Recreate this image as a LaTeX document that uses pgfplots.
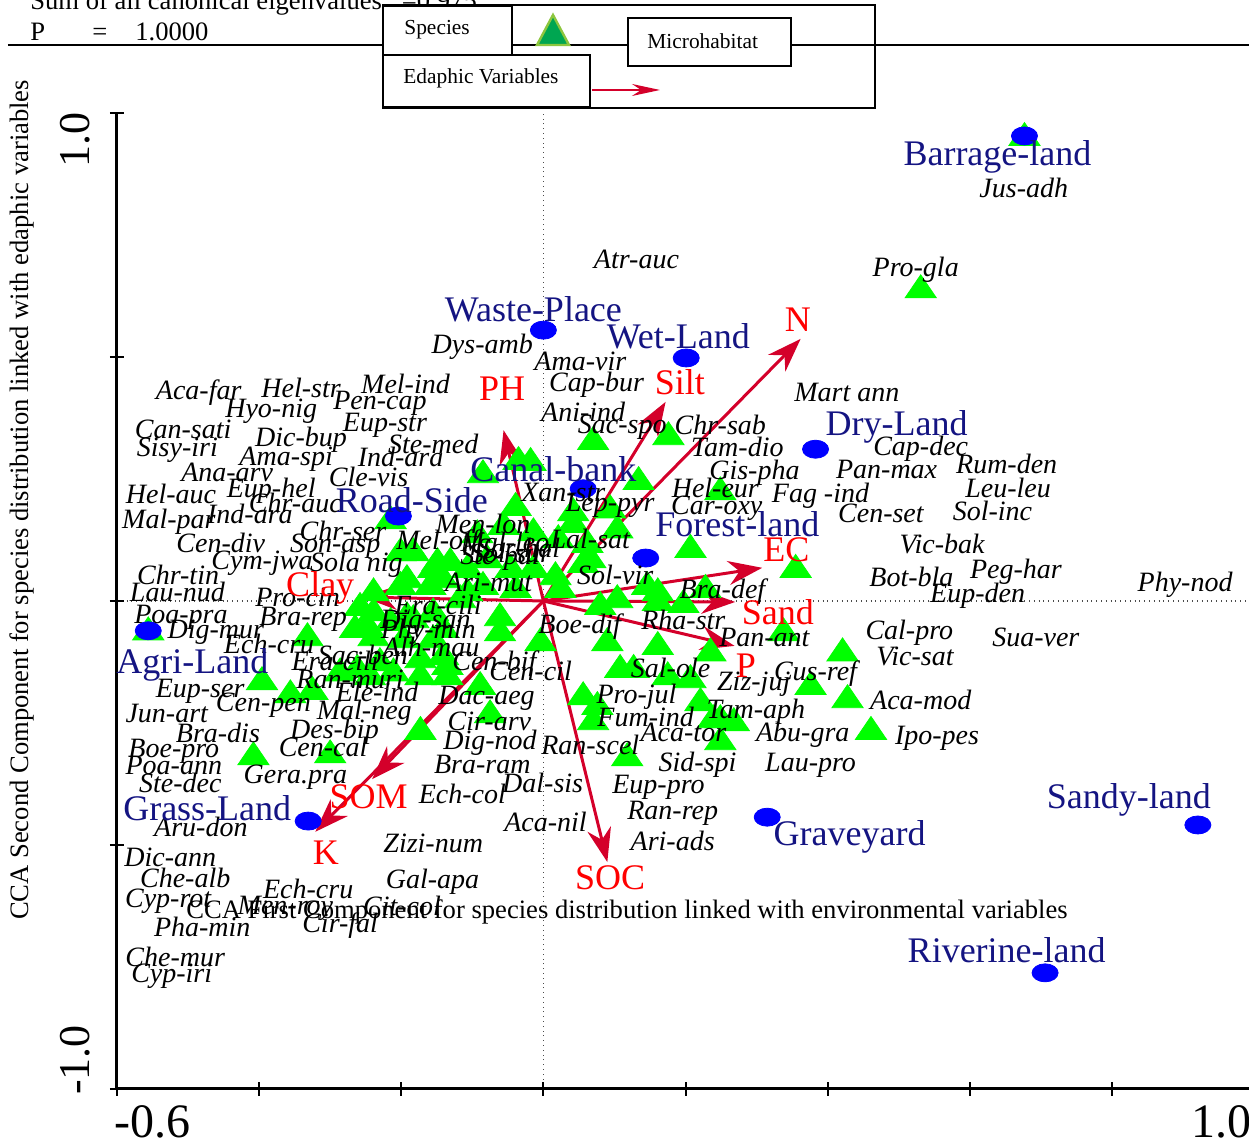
\documentclass[border=0pt]{standalone}
\usepackage{fontspec}
\setmainfont{Liberation Serif}
\usepackage{pgfplots}
\usepackage{pgfplotstable}
\pgfplotsset{compat=1.18}
\usetikzlibrary{arrows.meta}

\definecolor{ptgreen}{RGB}{0,255,0}
\definecolor{legdark}{RGB}{0,166,81}
\definecolor{leglight}{RGB}{141,198,63}
\definecolor{siteblue}{RGB}{0,0,255}
\definecolor{sitenavy}{RGB}{20,20,130}
\definecolor{arrowred}{RGB}{212,0,42}
\definecolor{lblred}{RGB}{255,0,0}
\newcommand\fs[1]{\fontsize{#1}{#1}\selectfont}

% species scores (triangles)
\pgfplotstableread{
x y
0.677 0.949
0.531 0.637
0.070 0.326
0.176 0.336
-0.085 0.258
-0.035 0.285
-0.018 0.283
0.134 0.244
0.249 0.223
-0.215 0.164
-0.201 0.098
-0.039 0.191
0.042 0.180
0.042 0.156
0.094 0.186
-0.093 0.135
-0.056 0.152
-0.014 0.139
0.021 0.125
0.062 0.115
0.104 0.145
-0.183 0.098
-0.149 0.078
-0.131 0.078
-0.107 0.064
-0.079 0.084
-0.046 0.064
-0.014 0.064
0.017 0.049
0.056 0.074
0.207 0.105
0.355 0.064
0.146 0.029
0.161 0.016
0.228 0.023
0.080 -0.012
0.104 0.002
0.161 -0.004
0.197 -0.008
-0.192 0.043
-0.159 0.029
-0.141 0.043
-0.107 0.016
-0.085 0.029
-0.061 -0.035
-0.183 -0.039
-0.141 -0.059
-0.061 -0.066
-0.004 -0.086
0.090 -0.086
0.161 -0.094
0.235 -0.107
0.338 -0.066
-0.197 -0.080
-0.173 -0.121
-0.135 -0.135
-0.173 -0.156
-0.089 -0.176
0.108 -0.141
0.127 -0.141
0.175 -0.156
0.207 -0.162
0.221 -0.209
0.056 -0.197
0.076 -0.217
0.376 -0.176
0.249 -0.244
0.268 -0.250
-0.075 -0.234
-0.173 -0.268
0.070 -0.248
0.239 -0.244
0.249 -0.289
0.118 -0.322
0.461 -0.268
0.428 -0.203
0.421 -0.107
-0.258 -0.014
-0.239 -0.025
-0.248 -0.053
-0.215 -0.045
-0.192 -0.033
-0.155 -0.025
-0.239 -0.076
-0.155 -0.080
-0.141 -0.115
-0.135 -0.156
-0.211 -0.148
-0.286 -0.148
-0.262 -0.141
-0.244 -0.156
-0.230 -0.127
-0.332 -0.076
-0.396 -0.166
-0.356 -0.193
-0.325 -0.186
-0.408 -0.320
-0.300 -0.316
-0.556 -0.064
-0.155 0.064
-0.201 0.029
-0.239 0.016
-0.117 0.002
-0.039 0.023
0.024 0.023
0.066 0.084
-0.265 -0.059
}\speciespts

% microhabitat scores
\pgfplotstableread{
x y
0.677 0.953
0.000 0.555
0.201 0.498
0.383 0.311
0.056 0.230
-0.204 0.174
0.144 0.088
-0.556 -0.061
-0.331 -0.451
0.315 -0.443
0.921 -0.459
0.706 -0.762
}\sites

\pgfplotstableread[col sep=comma]{
x,y,label
0.639,0.910,Barrage-land
-0.014,0.598,Waste-Place
0.190,0.543,Wet-Land
0.497,0.357,Dry-Land
0.014,0.270,Canal-bank
-0.185,0.207,Road-Side
0.273,0.158,Forest-land
-0.494,-0.131,Agri-Land
-0.473,-0.424,Grass-Land
0.431,-0.484,Graveyard
0.824,-0.408,Sandy-land
0.652,-0.715,Riverine-land
}\sitelabels

% edaphic variable biplot arrows
\pgfplotstableread{
x y u v
0 0 -0.056 0.350
0 0 0.172 0.408
0 0 0.362 0.537
0 0 0.308 0.068
0 0 0.270 -0.002
0 0 0.269 -0.092
0 0 0.090 -0.535
0 0 -0.321 -0.473
0 0 -0.241 -0.365
0 0 -0.254 0.008
}\edaphic

\pgfplotstableread[col sep=comma]{
x,y,label
-0.058,0.436,PH
0.192,0.449,Silt
0.358,0.576,N
0.342,0.105,EC
0.330,-0.023,Sand
0.285,-0.133,P
0.094,-0.568,SOC
-0.306,-0.516,K
-0.246,-0.402,SOM
-0.314,0.027,Clay
}\edalabels

\pgfplotstableread[col sep=comma]{
x,y,label
0.676,0.846,Jus-adh
0.131,0.699,Atr-auc
0.524,0.678,Pro-gla
-0.086,0.520,Dys-amb
0.052,0.490,Ama-vir
0.075,0.443,Cap-bur
0.427,0.428,Mart ann
0.056,0.387,Ani-ind
0.111,0.357,Sac-spo
0.249,0.361,Chr-sab
0.273,0.316,Tam-dio
0.531,0.311,Cap-dec
0.483,0.270,Pan-max
0.652,0.281,Rum-den
0.297,0.262,Gis-pha
0.654,0.232,Leu-leu
0.242,0.232,Hel-eur
0.028,0.223,Xan-str
0.390,0.215,Fag -ind
0.094,0.195,Lep-pyr
0.244,0.191,Car-oxy
0.475,0.180,Cen-set
0.632,0.184,Sol-inc
0.066,0.127,Lal-sat
-0.054,0.121,Mal-leo
-0.085,0.158,Men-lon
-0.149,0.119,Mel-off
-0.035,0.109,Sor-hal
-0.061,0.088,Ste-pal
-0.046,0.098,Sol-sur
0.101,0.053,Sol-vir
0.561,0.117,Vic-bak
-0.077,0.039,Ari-mut
0.518,0.049,Bot-bla
0.665,0.059,Peg-har
0.903,0.033,Phy-nod
0.252,0.020,Bra-def
0.611,0.010,Eup-den
-0.346,0.008,Pro-cin
-0.148,-0.008,Era-cili
-0.510,-0.033,Poa-pra
-0.338,-0.037,Bra-rep
-0.166,-0.043,Dig-san
0.197,-0.039,Rha-str
0.051,-0.053,Boe-dif
-0.461,-0.064,Dig-mur
-0.162,-0.064,Phy-min
0.515,-0.066,Cal-pro
0.693,-0.074,Sua-ver
0.311,-0.074,Pan-ant
-0.386,-0.088,Ech-cru
-0.158,-0.094,Alh-mau
0.523,-0.113,Vic-sat
-0.293,-0.123,Era-cili
-0.254,-0.111,Sac-ben
-0.069,-0.129,Cen-bif
-0.018,-0.143,Cen-cil
0.179,-0.137,Sal-ole
0.383,-0.148,Cus-ref
0.296,-0.170,Ziz-juj
-0.272,-0.160,Ran-muri
-0.483,-0.186,Eup-ser
-0.234,-0.186,Ele-ind
-0.394,-0.213,Cen-pen
-0.080,-0.199,Dac-aeg
0.131,-0.197,Pro-jul
0.531,-0.203,Aca-mod
-0.530,-0.230,Jun-art
-0.252,-0.230,Mal-neg
0.299,-0.227,Tam-aph
0.144,-0.238,Fum-ind
-0.076,-0.246,Cir-arv
-0.458,-0.270,Bra-dis
-0.294,-0.268,Des-bip
0.197,-0.270,Aca-tor
0.365,-0.275,Abu-gra
0.554,-0.281,Ipo-pes
-0.075,-0.291,Dig-nod
0.066,-0.295,Ran-scel
-0.520,-0.309,Boe-pro
-0.310,-0.299,Cen-cal
-0.520,-0.338,Poa-ann
-0.086,-0.336,Bra-ram
0.217,-0.336,Sid-spi
0.376,-0.336,Lau-pro
-0.349,-0.361,Gera.pra
-0.511,-0.373,Ste-dec
-0.001,-0.373,Dal-sis
0.162,-0.381,Eup-pro
-0.114,-0.395,Ech-col
0.182,-0.436,Ran-rep
0.003,-0.453,Aca-nil
-0.482,-0.463,Aru-don
0.182,-0.492,Ari-ads
-0.155,-0.496,Zizi-num
-0.525,-0.525,Dic-ann
-0.504,-0.568,Che-alb
-0.156,-0.576,Gal-apa
-0.331,-0.590,Ech-cru
-0.528,-0.615,Cyp-rot
-0.363,-0.629,Men-roy
-0.199,-0.625,Cit-col
-0.480,-0.668,Pha-min
-0.286,-0.666,Cir-fal
-0.518,-0.730,Che-mur
-0.523,-0.768,Cyp-iri
-0.485,0.428,Aca-far
-0.341,0.436,Hel-str
-0.194,0.445,Mel-ind
-0.383,0.389,Hyo-nig
-0.230,0.406,Pen-cap
-0.507,0.352,Can-sati
-0.223,0.361,Eup-str
-0.341,0.330,Dic-bup
-0.515,0.309,Sisy-iri
-0.155,0.322,Ste-med
-0.362,0.291,Ama-spi
-0.201,0.295,Ind-ara
-0.445,0.264,Ana-arv
-0.246,0.254,Cle-vis
-0.524,0.219,Hel-auc
-0.383,0.225,Eup-hel
-0.349,0.201,Chr-auc
-0.413,0.178,Ind-ara
-0.527,0.162,Mal-par
-0.282,0.143,Chr-ser
-0.454,0.119,Cen-div
-0.293,0.113,Son-asp
-0.396,0.078,Cym-jwa
-0.263,0.074,Sola nig
-0.514,0.053,Chr-tin
-0.515,0.018,Lau-nud
}\splabels

\begin{document}
\begin{tikzpicture}
% page = reference frame, 1 px = 0.5 pt, origin at the axis corner
\path[use as bounding box] (-58.5pt,-27.5pt) rectangle (566pt,544.5pt);

\begin{axis}[
  scale only axis, width=568.5pt, height=488pt,
  xmin=-0.6, xmax=1.0, ymin=-1, ymax=1,
  axis x line*=bottom, axis y line*=left,
  axis line style={-, line width=1.5pt},
  xtick={-0.6,-0.4,-0.2,0,0.2,0.4,0.6,0.8,1.0},
  ytick={-1,-0.5,0,0.5,1},
  xticklabels={}, yticklabels={},
  tick align=center, major tick length=7pt,
  tick style={black, line width=1pt},
  extra x ticks={0}, extra y ticks={0},
  extra x tick labels={}, extra y tick labels={},
  extra tick style={grid=major, major grid style={dotted, black!70, line width=0.6pt}},
  clip=false,
]
\addplot[only marks, mark=triangle*, mark size=9pt,
  mark options={draw=ptgreen, fill=ptgreen, yscale=0.85}] table {\speciespts};

\addplot[arrowred, line width=1.5pt, -{Stealth[length=17pt,width=12pt]},
  quiver={u=\thisrow{u}, v=\thisrow{v}}] table {\edaphic};

\addplot[only marks, mark=*, mark size=4.5pt,
  mark options={draw=siteblue, fill=siteblue, xscale=1.45}] table {\sites};

\addplot[only marks, mark=none, nodes near coords, point meta=explicit symbolic,
  every node near coord/.append style={anchor=center, inner sep=0pt, text=black, font=\fs{14}\itshape}]
  table[x=x, y=y, meta=label] {\splabels};

\addplot[only marks, mark=none, nodes near coords, point meta=explicit symbolic,
  every node near coord/.append style={anchor=center, inner sep=0pt, text=lblred, font=\fs{18}}]
  table[x=x, y=y, meta=label] {\edalabels};

\addplot[only marks, mark=none, nodes near coords, point meta=explicit symbolic,
  every node near coord/.append style={anchor=center, inner sep=0pt, text=sitenavy, font=\fs{18}}]
  table[x=x, y=y, meta=label] {\sitelabels};
\end{axis}

% decorations in pixel units of the reference
\begin{scope}[shift={(-58.5pt,544.5pt)}, x=0.5pt, y=-0.5pt]
  \node[anchor=base west, font=\fs{13.3}, inner sep=0pt] at (30,10) {Sum of all canonical eigenvalues \ \ =0.975};
  \node[anchor=base west, font=\fs{13.3}, inner sep=0pt] at (30,41) {P};
  \node[anchor=base west, font=\fs{13.3}, inner sep=0pt] at (92,41) {=};
  \node[anchor=base west, font=\fs{13.3}, inner sep=0pt] at (135,41) {1.0000};
  \draw[line width=1pt] (8,45) -- (1249,45);

  \draw[line width=0.6pt] (383,5) rectangle (875,108);
  \draw[line width=0.8pt, fill=white] (383,6) rectangle (512,55);
  \draw[line width=0.8pt, fill=white] (383,55) rectangle (590,107);
  \draw[line width=0.8pt, fill=white] (628,18) rectangle (791,66);
  \node[anchor=west, font=\fs{10.7}, inner sep=0pt] at (404,30) {Species};
  \node[anchor=west, font=\fs{10.7}, inner sep=0pt] at (403,78) {Edaphic Variables};
  \node[anchor=west, font=\fs{10.7}, inner sep=0pt] at (647,41) {Microhabitat};
  \filldraw[draw=leglight, fill=legdark, line width=1.2pt] (537,45) -- (569,45) -- (553,15) -- cycle;
  \draw[arrowred, line width=0.8pt, -{Stealth[length=14pt,width=6pt]}] (592,90) -- (660,90);

  \node[anchor=west, font=\fs{24}, inner sep=0pt] at (114,1122) {-0.6};
  \node[anchor=east, font=\fs{24}, inner sep=0pt] at (1252,1122) {1.0};
  \node[rotate=90, font=\fs{22}, inner sep=0pt] at (75,140) {1.0};
  \node[rotate=90, font=\fs{22}, inner sep=0pt] at (75,1060) {-1.0};
  \node[rotate=90, font=\fs{13.3}, inner sep=0pt] at (22,500) {CCA Second Component for species distribution linked with edaphic variables};
  \node[font=\fs{13.3}, inner sep=0pt] at (627,912) {CCA First Component for species distribution linked with environmental variables};
\end{scope}
\end{tikzpicture}
\end{document}
